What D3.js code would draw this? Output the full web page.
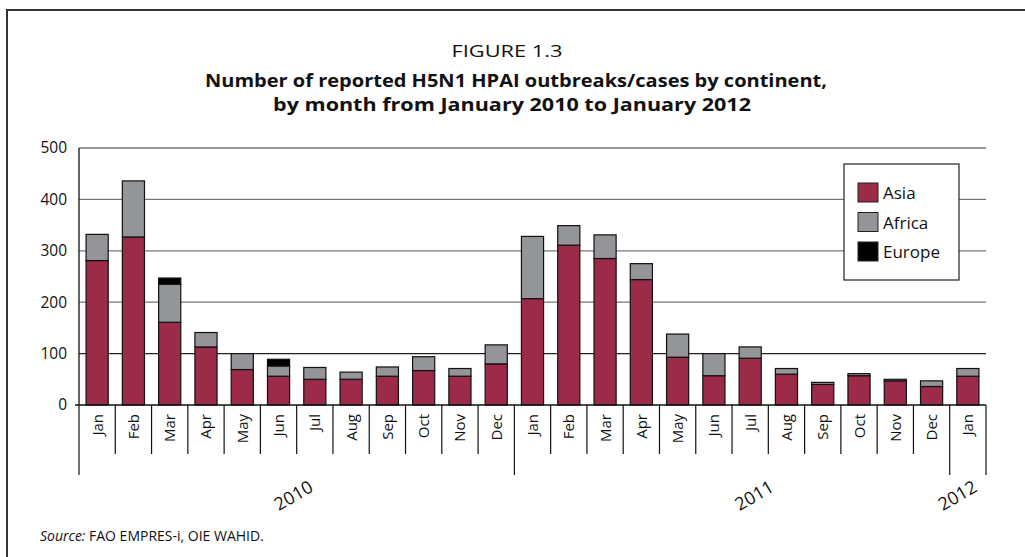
<!DOCTYPE html>
<html>
<head>
<meta charset="utf-8">
<script src="https://cdn.jsdelivr.net/npm/d3@7"></script>
<style>
  body { margin: 0; background: #fff; }
  text { font-family: "Open Sans", "Noto Sans", sans-serif; fill: #111; }
</style>
</head>
<body>
<div id="chart"></div>
<script>
// data
var months = ["Jan","Feb","Mar","Apr","May","Jun","Jul","Aug","Sep","Oct","Nov","Dec",
              "Jan","Feb","Mar","Apr","May","Jun","Jul","Aug","Sep","Oct","Nov","Dec","Jan"];
var asia   = [281,327,161,113,69,56,50,50,56,67,56,80, 207,311,285,244,93,57,91,60,40,57,47,36,56];
var africa = [51,109,74,28,31,20,23,14,18,27,15,37, 121,38,46,31,45,43,22,11,4,4,3,11,15];
var europe = [0,0,12,0,0,13,0,0,0,0,0,0, 0,0,0,0,0,0,0,0,0,0,0,0,0];
var years  = ["2010","2011","2012"];
var yearStart = [0,12,24];   // first month index of each year
var yTicks = [0,100,200,300,400,500];
var seriesNames = ["Asia","Africa","Europe"];

var colors = {"Asia":"#9c2a49","Africa":"#939598","Europe":"#000"};

var W = 1025, H = 557;
var plot = {left:79, right:986, top:148, bottom:405};

var svg = d3.select("#chart").append("svg")
    .attr("width", W).attr("height", H);

// figure frame (top and left edges)
svg.append("path")
    .attr("d", "M7," + H + " L7,10 L" + W + ",10")
    .attr("fill","none").attr("stroke","#333").attr("stroke-width",2);

// titles
svg.append("text").attr("x",507).attr("y",57).attr("text-anchor","middle")
    .style("font-size","17px").attr("textLength",111).attr("lengthAdjust","spacingAndGlyphs")
    .text("FIGURE 1.3");
svg.append("text").attr("x",516).attr("y",87).attr("text-anchor","middle")
    .style("font-size","18.5px").style("font-weight","bold")
    .attr("textLength",622).attr("lengthAdjust","spacingAndGlyphs")
    .text("Number of reported H5N1 HPAI outbreaks/cases by continent,");
svg.append("text").attr("x",512).attr("y",111).attr("text-anchor","middle")
    .style("font-size","18.5px").style("font-weight","bold")
    .attr("textLength",478).attr("lengthAdjust","spacingAndGlyphs")
    .text("by month from January 2010 to January 2012");

var x = d3.scaleBand()
    .domain(d3.range(months.length))
    .range([plot.left, plot.right])
    .paddingInner(0.39).paddingOuter(0.195);
var step = x.step();
var edge = function(i) { return plot.left + i * step; };

var y = d3.scaleLinear().domain([0,500]).range([plot.bottom, plot.top]);

// gridlines
svg.append("g").selectAll("line").data(yTicks.slice(1)).join("line")
    .attr("x1", plot.left).attr("x2", plot.right)
    .attr("y1", function(d){ return y(d); }).attr("y2", function(d){ return y(d); })
    .attr("stroke", function(d){ return d === 100 ? "#222" : "#777"; })
    .attr("stroke-width", 1.3);

// y axis
var yAxis = svg.append("g").attr("transform","translate(" + plot.left + ",0)")
    .call(d3.axisLeft(y).tickValues(yTicks).tickSize(0).tickPadding(12));
yAxis.select(".domain").remove();
yAxis.selectAll("text").style("font-size","15.5px").style("font-family","'Open Sans', sans-serif").attr("fill","#111");
svg.append("line").attr("x1",plot.left).attr("x2",plot.left)
    .attr("y1",plot.top).attr("y2",plot.bottom).attr("stroke","#111").attr("stroke-width",1.3);

// stacked bars
var rows = months.map(function(m,i){ return {i:i, Asia:asia[i], Africa:africa[i], Europe:europe[i]}; });
var stack = d3.stack().keys(seriesNames)(rows);

svg.append("g").selectAll("g").data(stack).join("g")
    .attr("fill", function(s){ return colors[s.key]; })
  .selectAll("rect").data(function(s){ return s.filter(function(d){ return d[1] > d[0]; }); }).join("rect")
    .attr("x", function(d){ return x(d.data.i); })
    .attr("width", x.bandwidth())
    .attr("y", function(d){ return y(d[1]); })
    .attr("height", function(d){ return y(d[0]) - y(d[1]); })
    .attr("stroke","#111").attr("stroke-width",1.2);

// baseline
svg.append("line").attr("x1",plot.left - 4).attr("x2",plot.right)
    .attr("y1",plot.bottom).attr("y2",plot.bottom).attr("stroke","#111").attr("stroke-width",1.5);

// category separators
var seps = d3.range(months.length + 1);
svg.append("g").selectAll("line").data(seps).join("line")
    .attr("x1", edge).attr("x2", edge)
    .attr("y1", plot.bottom)
    .attr("y2", function(i){ return (yearStart.indexOf(i) >= 0 || i === months.length) ? 475 : 454; })
    .attr("stroke","#111").attr("stroke-width",1.2);

// month labels
svg.append("g").selectAll("text").data(months).join("text")
    .attr("transform", function(d,i){ return "translate(" + (x(i) + x.bandwidth()/2 + 5.5) + ",414) rotate(-90)"; })
    .attr("text-anchor","end")
    .style("font-size","15px")
    .text(function(d){ return d; });

// year labels (rotated)
var yearMid = [6, 18.7, 24.3];
svg.append("g").selectAll("text").data(years).join("text")
    .attr("transform", function(d,i){ return "translate(" + edge(yearMid[i]) + ",501) rotate(-30)"; })
    .attr("text-anchor","middle")
    .style("font-size","18px")
    .text(function(d){ return d; });

// legend
var lg = svg.append("g").attr("transform","translate(844,164)");
lg.append("rect").attr("width",115).attr("height",116)
    .attr("fill","#fff").attr("stroke","#222").attr("stroke-width",1.2);
var li = lg.selectAll("g").data(seriesNames).join("g")
    .attr("transform", function(d,i){ return "translate(14," + (19 + i*29.5) + ")"; });
li.append("rect").attr("width",20).attr("height",19)
    .attr("fill", function(d){ return colors[d]; }).attr("stroke","#222").attr("stroke-width",1);
li.append("text").attr("x",25).attr("y",16).style("font-size","17px")
    .text(function(d){ return d; });

// source
var src = svg.append("text").attr("x",40).attr("y",541).style("font-size","14px");
src.append("tspan").style("font-style","italic").text("Source:");
src.append("tspan").text(" FAO EMPRES-i, OIE WAHID.");
</script>
</body>
</html>
